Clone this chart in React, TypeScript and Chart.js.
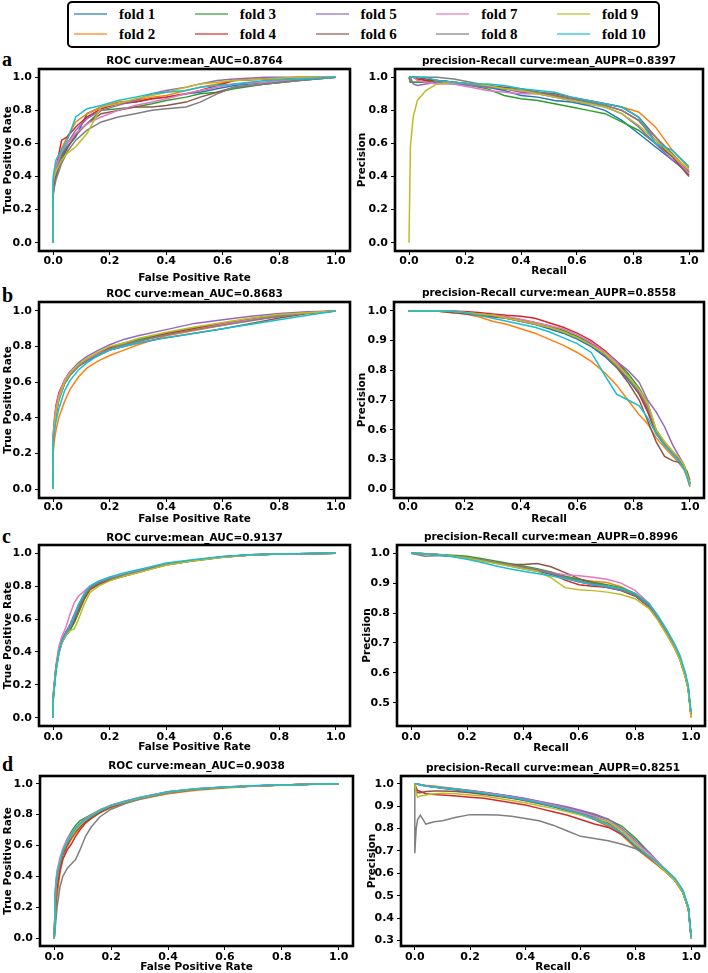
import React, { useEffect, useRef } from 'react';
import { Chart, registerables, LinearScale } from 'chart.js';

// ---------------- shared labels / colours ----------------
const FOLD_LABELS = ['fold 1', 'fold 2', 'fold 3', 'fold 4', 'fold 5', 'fold 6', 'fold 7', 'fold 8', 'fold 9', 'fold 10'];
const FOLD_COLORS = ['#1f77b4', '#ff7f0e', '#2ca02c', '#d62728', '#9467bd', '#8c564b', '#e377c2', '#7f7f7f', '#bcbd22', '#17becf'];
const LEGEND_COLORS = ['rgba(31,119,180,0.6)', 'rgba(255,127,14,0.6)', 'rgba(44,160,44,0.6)', 'rgba(214,39,40,0.6)', 'rgba(148,103,189,0.6)', 'rgba(140,86,75,0.6)', 'rgba(227,119,194,0.6)', 'rgba(127,127,127,0.6)', 'rgba(188,189,34,0.6)', 'rgba(23,190,207,0.6)'];

const UNIT_TICKS = [0, 0.2, 0.4, 0.6, 0.8, 1.0];
const PR_B_TICKS = [0, 0.3, 0.6, 0.7, 0.8, 0.9, 1.0];
const PR_C_TICKS = [0.5, 0.6, 0.7, 0.8, 0.9, 1.0];
const PR_D_TICKS = [0.3, 0.4, 0.5, 0.6, 0.7, 0.8, 0.9, 1.0];

const TITLES = {
  aRoc: 'ROC curve:mean_AUC=0.8764', aPr: 'precision-Recall curve:mean_AUPR=0.8397',
  bRoc: 'ROC curve:mean_AUC=0.8683', bPr: 'precision-Recall curve:mean_AUPR=0.8558',
  cRoc: 'ROC curve:mean_AUC=0.9137', cPr: 'precision-Recall curve:mean_AUPR=0.8996',
  dRoc: 'ROC curve:mean_AUC=0.9038', dPr: 'precision-Recall curve:mean_AUPR=0.8251',
};

// ---------------- panel a : ROC ----------------
const rocA_fpr = [0, 0, 0.01, 0.03, 0.05, 0.08, 0.12, 0.17, 0.23, 0.29, 0.35, 0.40, 0.47, 0.52, 0.58, 0.64, 0.75, 0.87, 1.0];
const rocA_tpr = [
  [0, 0.30, 0.42, 0.52, 0.58, 0.64, 0.78, 0.82, 0.84, 0.85, 0.87, 0.88, 0.90, 0.91, 0.93, 0.95, 0.97, 0.99, 1.0],
  [0, 0.33, 0.45, 0.57, 0.64, 0.73, 0.78, 0.82, 0.85, 0.86, 0.88, 0.89, 0.92, 0.94, 0.96, 0.98, 0.99, 0.995, 1.0],
  [0, 0.35, 0.44, 0.53, 0.60, 0.66, 0.72, 0.80, 0.81, 0.82, 0.84, 0.86, 0.88, 0.90, 0.91, 0.93, 0.96, 0.98, 1.0],
  [0, 0.28, 0.45, 0.62, 0.64, 0.70, 0.76, 0.81, 0.84, 0.85, 0.87, 0.88, 0.90, 0.92, 0.95, 0.98, 0.99, 1.0, 1.0],
  [0, 0.34, 0.44, 0.55, 0.60, 0.68, 0.75, 0.80, 0.83, 0.86, 0.90, 0.92, 0.94, 0.96, 0.98, 0.99, 1.0, 1.0, 1.0],
  [0, 0.32, 0.40, 0.50, 0.57, 0.65, 0.72, 0.78, 0.80, 0.82, 0.82, 0.83, 0.85, 0.88, 0.91, 0.94, 0.96, 0.98, 1.0],
  [0, 0.36, 0.46, 0.55, 0.60, 0.66, 0.72, 0.76, 0.80, 0.83, 0.85, 0.87, 0.90, 0.92, 0.94, 0.96, 0.97, 0.99, 1.0],
  [0, 0.30, 0.38, 0.48, 0.55, 0.62, 0.68, 0.73, 0.76, 0.78, 0.80, 0.81, 0.82, 0.85, 0.90, 0.94, 0.96, 0.98, 1.0],
  [0, 0.38, 0.43, 0.50, 0.54, 0.58, 0.66, 0.82, 0.84, 0.87, 0.89, 0.91, 0.94, 0.96, 0.97, 0.98, 0.99, 1.0, 1.0],
  [0, 0.40, 0.50, 0.56, 0.62, 0.76, 0.81, 0.83, 0.86, 0.88, 0.90, 0.91, 0.92, 0.94, 0.95, 0.96, 0.98, 0.99, 1.0],
];

// ---------------- panel a : PR ----------------
const prA_recall = [0, 0.005, 0.015, 0.03, 0.06, 0.10, 0.16, 0.22, 0.28, 0.34, 0.40, 0.46, 0.52, 0.58, 0.64, 0.70, 0.76, 0.82, 0.88, 0.94, 1.0];
const prA_precision = [
  [1.0, 1.0, 1.0, 1.0, 0.98, 0.98, 0.97, 0.96, 0.94, 0.92, 0.89, 0.88, 0.86, 0.85, 0.83, 0.80, 0.74, 0.66, 0.58, 0.50, 0.42],
  [1.0, 0.97, 0.97, 0.97, 0.97, 0.98, 0.97, 0.96, 0.95, 0.93, 0.92, 0.91, 0.89, 0.87, 0.86, 0.84, 0.82, 0.79, 0.70, 0.56, 0.45],
  [1.0, 0.97, 0.97, 0.97, 0.97, 0.98, 0.97, 0.95, 0.93, 0.89, 0.87, 0.86, 0.84, 0.82, 0.80, 0.78, 0.73, 0.68, 0.60, 0.52, 0.43],
  [1.0, 1.0, 1.0, 0.99, 0.98, 0.98, 0.97, 0.96, 0.95, 0.93, 0.92, 0.91, 0.89, 0.87, 0.85, 0.83, 0.80, 0.74, 0.62, 0.52, 0.41],
  [1.0, 1.0, 0.96, 0.95, 0.96, 0.97, 0.96, 0.95, 0.94, 0.93, 0.91, 0.90, 0.88, 0.86, 0.84, 0.82, 0.78, 0.70, 0.60, 0.50, 0.42],
  [1.0, 1.0, 1.0, 1.0, 0.99, 0.98, 0.97, 0.96, 0.95, 0.94, 0.93, 0.91, 0.90, 0.88, 0.86, 0.84, 0.82, 0.76, 0.64, 0.52, 0.40],
  [1.0, 1.0, 1.0, 0.98, 0.97, 0.96, 0.96, 0.94, 0.92, 0.91, 0.90, 0.90, 0.88, 0.86, 0.85, 0.83, 0.80, 0.74, 0.64, 0.53, 0.42],
  [1.0, 1.0, 1.0, 1.0, 1.0, 1.0, 0.99, 0.97, 0.95, 0.93, 0.92, 0.91, 0.89, 0.87, 0.85, 0.83, 0.80, 0.74, 0.64, 0.54, 0.43],
  [0.0, 0.58, 0.76, 0.86, 0.92, 0.96, 0.97, 0.96, 0.95, 0.93, 0.92, 0.90, 0.88, 0.86, 0.84, 0.82, 0.78, 0.71, 0.62, 0.53, 0.44],
  [1.0, 1.0, 1.0, 1.0, 1.0, 0.98, 0.97, 0.96, 0.96, 0.95, 0.93, 0.92, 0.91, 0.88, 0.86, 0.84, 0.82, 0.76, 0.60, 0.56, 0.46],
];

// ---------------- panel b : ROC ----------------
const rocB_fpr = [0, 0, 0.005, 0.01, 0.02, 0.04, 0.06, 0.09, 0.12, 0.16, 0.2, 0.25, 0.3, 0.4, 0.5, 0.6, 0.7, 0.8, 0.9, 1.0];
const rocB_tpr = [
  [0, 0.27, 0.36, 0.42, 0.50, 0.59, 0.64, 0.69, 0.725, 0.76, 0.79, 0.81, 0.835, 0.87, 0.90, 0.925, 0.95, 0.97, 0.99, 1.0],
  [0, 0.20, 0.28, 0.33, 0.40, 0.49, 0.56, 0.63, 0.68, 0.72, 0.75, 0.78, 0.81, 0.86, 0.89, 0.92, 0.95, 0.97, 0.99, 1.0],
  [0, 0.27, 0.36, 0.43, 0.51, 0.60, 0.65, 0.70, 0.73, 0.765, 0.795, 0.82, 0.84, 0.875, 0.905, 0.93, 0.955, 0.975, 0.99, 1.0],
  [0, 0.30, 0.40, 0.47, 0.54, 0.61, 0.66, 0.70, 0.73, 0.76, 0.79, 0.81, 0.83, 0.87, 0.90, 0.93, 0.95, 0.97, 0.99, 1.0],
  [0, 0.28, 0.37, 0.44, 0.52, 0.61, 0.66, 0.71, 0.745, 0.78, 0.81, 0.84, 0.86, 0.895, 0.93, 0.95, 0.97, 0.985, 0.995, 1.0],
  [0, 0.28, 0.37, 0.44, 0.52, 0.60, 0.65, 0.69, 0.72, 0.75, 0.78, 0.80, 0.82, 0.85, 0.875, 0.90, 0.93, 0.96, 0.985, 1.0],
  [0, 0.30, 0.39, 0.46, 0.53, 0.61, 0.66, 0.70, 0.73, 0.76, 0.785, 0.81, 0.83, 0.865, 0.895, 0.925, 0.95, 0.97, 0.99, 1.0],
  [0, 0.26, 0.35, 0.42, 0.50, 0.59, 0.64, 0.69, 0.72, 0.755, 0.785, 0.81, 0.83, 0.865, 0.895, 0.92, 0.945, 0.97, 0.99, 1.0],
  [0, 0.27, 0.36, 0.43, 0.51, 0.60, 0.65, 0.70, 0.735, 0.77, 0.80, 0.82, 0.845, 0.88, 0.91, 0.935, 0.96, 0.98, 0.99, 1.0],
  [0, 0.26, 0.33, 0.38, 0.45, 0.55, 0.61, 0.67, 0.71, 0.75, 0.78, 0.80, 0.82, 0.85, 0.875, 0.90, 0.925, 0.95, 0.975, 1.0],
];

// ---------------- panel b : PR ----------------
const prB_recall = [0, 0.1, 0.15, 0.2, 0.25, 0.3, 0.35, 0.4, 0.45, 0.5, 0.55, 0.6, 0.65, 0.7, 0.74, 0.78, 0.82, 0.85, 0.88, 0.91, 0.94, 0.96, 0.98, 0.99, 1.0];
const prB_precision = [
  [1, 1, 1, 0.995, 0.99, 0.985, 0.975, 0.965, 0.955, 0.94, 0.925, 0.905, 0.88, 0.845, 0.81, 0.77, 0.72, 0.67, 0.57, 0.45, 0.36, 0.30, 0.21, 0.14, 0.05],
  [1, 1, 0.995, 0.99, 0.98, 0.965, 0.955, 0.94, 0.925, 0.905, 0.885, 0.86, 0.83, 0.79, 0.75, 0.70, 0.65, 0.62, 0.52, 0.42, 0.33, 0.27, 0.19, 0.12, 0.02],
  [1, 1, 1, 0.995, 0.99, 0.985, 0.98, 0.97, 0.96, 0.95, 0.935, 0.915, 0.89, 0.86, 0.83, 0.79, 0.74, 0.69, 0.60, 0.47, 0.37, 0.31, 0.22, 0.14, 0.05],
  [1, 1, 1, 0.998, 0.995, 0.99, 0.985, 0.982, 0.975, 0.96, 0.945, 0.925, 0.90, 0.865, 0.83, 0.78, 0.72, 0.66, 0.56, 0.45, 0.36, 0.30, 0.22, 0.14, 0.06],
  [1, 1, 1, 0.99, 0.985, 0.98, 0.975, 0.965, 0.955, 0.945, 0.93, 0.91, 0.89, 0.86, 0.83, 0.80, 0.76, 0.70, 0.66, 0.61, 0.44, 0.34, 0.24, 0.155, 0.07],
  [1, 1, 0.995, 0.99, 0.985, 0.98, 0.975, 0.968, 0.958, 0.945, 0.93, 0.91, 0.885, 0.85, 0.81, 0.76, 0.70, 0.63, 0.48, 0.33, 0.285, 0.27, 0.22, 0.18, 0.09],
  [1, 1, 1, 0.995, 0.99, 0.985, 0.98, 0.972, 0.962, 0.95, 0.94, 0.92, 0.895, 0.86, 0.825, 0.78, 0.73, 0.68, 0.59, 0.46, 0.36, 0.29, 0.21, 0.13, 0.04],
  [1, 1, 1, 0.995, 0.99, 0.985, 0.975, 0.965, 0.955, 0.945, 0.93, 0.91, 0.885, 0.85, 0.815, 0.775, 0.725, 0.675, 0.58, 0.45, 0.35, 0.29, 0.21, 0.14, 0.06],
  [1, 1, 1, 0.995, 0.99, 0.985, 0.975, 0.967, 0.957, 0.945, 0.93, 0.91, 0.885, 0.855, 0.82, 0.78, 0.735, 0.69, 0.60, 0.48, 0.38, 0.32, 0.24, 0.15, 0.06],
  [1, 1, 1, 0.995, 0.985, 0.975, 0.965, 0.955, 0.945, 0.93, 0.91, 0.89, 0.86, 0.78, 0.72, 0.70, 0.68, 0.64, 0.56, 0.44, 0.35, 0.29, 0.20, 0.12, 0.03],
];

// ---------------- panel c : ROC ----------------
const rocC_fpr = [0, 0, 0.01, 0.02, 0.03, 0.045, 0.06, 0.075, 0.09, 0.11, 0.13, 0.16, 0.2, 0.25, 0.3, 0.35, 0.4, 0.5, 0.6, 0.7, 0.8, 1.0];
const rocC_tpr = [
  [0, 0.11, 0.30, 0.40, 0.46, 0.51, 0.55, 0.61, 0.67, 0.74, 0.79, 0.82, 0.845, 0.87, 0.89, 0.912, 0.932, 0.958, 0.978, 0.99, 0.995, 1.0],
  [0, 0.12, 0.30, 0.41, 0.47, 0.51, 0.55, 0.58, 0.64, 0.72, 0.775, 0.81, 0.835, 0.86, 0.882, 0.905, 0.928, 0.955, 0.976, 0.989, 0.995, 1.0],
  [0, 0.13, 0.31, 0.40, 0.46, 0.50, 0.53, 0.58, 0.64, 0.72, 0.78, 0.81, 0.838, 0.862, 0.884, 0.908, 0.93, 0.956, 0.977, 0.989, 0.995, 1.0],
  [0, 0.12, 0.30, 0.41, 0.47, 0.52, 0.56, 0.60, 0.66, 0.73, 0.785, 0.815, 0.84, 0.865, 0.886, 0.91, 0.93, 0.957, 0.977, 0.99, 0.995, 1.0],
  [0, 0.12, 0.31, 0.41, 0.47, 0.52, 0.57, 0.63, 0.69, 0.75, 0.79, 0.82, 0.845, 0.87, 0.89, 0.912, 0.932, 0.958, 0.978, 0.99, 0.995, 1.0],
  [0, 0.11, 0.29, 0.39, 0.45, 0.50, 0.54, 0.59, 0.65, 0.73, 0.78, 0.81, 0.838, 0.862, 0.884, 0.908, 0.93, 0.956, 0.977, 0.989, 0.995, 1.0],
  [0, 0.14, 0.32, 0.43, 0.49, 0.55, 0.63, 0.70, 0.74, 0.77, 0.80, 0.825, 0.848, 0.87, 0.888, 0.908, 0.928, 0.955, 0.976, 0.989, 0.995, 1.0],
  [0, 0.12, 0.30, 0.40, 0.46, 0.51, 0.55, 0.61, 0.67, 0.74, 0.79, 0.82, 0.845, 0.868, 0.888, 0.91, 0.932, 0.958, 0.978, 0.99, 0.995, 1.0],
  [0, 0.12, 0.29, 0.39, 0.45, 0.50, 0.53, 0.54, 0.60, 0.69, 0.76, 0.80, 0.832, 0.86, 0.882, 0.905, 0.928, 0.955, 0.976, 0.989, 0.995, 1.0],
  [0, 0.10, 0.28, 0.39, 0.46, 0.51, 0.55, 0.62, 0.69, 0.755, 0.80, 0.83, 0.855, 0.88, 0.90, 0.92, 0.94, 0.962, 0.98, 0.99, 0.996, 1.0],
];

// ---------------- panel c : PR ----------------
const prC_recall = [0, 0.05, 0.1, 0.15, 0.2, 0.25, 0.3, 0.35, 0.4, 0.45, 0.5, 0.55, 0.6, 0.65, 0.7, 0.75, 0.8, 0.85, 0.88, 0.91, 0.94, 0.96, 0.98, 0.99, 1.0];
const prC_precision = [
  [1.0, 0.997, 0.993, 0.99, 0.984, 0.976, 0.968, 0.958, 0.948, 0.94, 0.93, 0.918, 0.905, 0.895, 0.885, 0.875, 0.857, 0.82, 0.78, 0.735, 0.685, 0.645, 0.585, 0.545, 0.46],
  [1.0, 0.998, 0.995, 0.99, 0.985, 0.977, 0.969, 0.96, 0.952, 0.944, 0.934, 0.922, 0.912, 0.906, 0.902, 0.888, 0.865, 0.828, 0.79, 0.745, 0.695, 0.655, 0.595, 0.55, 0.45],
  [1.0, 0.998, 0.996, 0.993, 0.99, 0.982, 0.974, 0.966, 0.957, 0.948, 0.937, 0.923, 0.913, 0.903, 0.895, 0.885, 0.866, 0.825, 0.785, 0.74, 0.69, 0.65, 0.59, 0.55, 0.46],
  [1.0, 0.998, 0.995, 0.99, 0.985, 0.977, 0.968, 0.96, 0.952, 0.943, 0.932, 0.91, 0.895, 0.89, 0.886, 0.876, 0.858, 0.822, 0.782, 0.738, 0.688, 0.648, 0.588, 0.548, 0.46],
  [1.0, 0.998, 0.995, 0.99, 0.985, 0.978, 0.97, 0.962, 0.953, 0.945, 0.933, 0.918, 0.905, 0.895, 0.887, 0.877, 0.86, 0.823, 0.783, 0.738, 0.688, 0.648, 0.59, 0.55, 0.46],
  [1.0, 0.998, 0.995, 0.99, 0.985, 0.978, 0.97, 0.963, 0.962, 0.966, 0.955, 0.935, 0.915, 0.90, 0.89, 0.878, 0.86, 0.824, 0.784, 0.74, 0.69, 0.65, 0.59, 0.55, 0.46],
  [1.0, 0.998, 0.995, 0.99, 0.985, 0.978, 0.97, 0.96, 0.952, 0.944, 0.935, 0.928, 0.925, 0.92, 0.913, 0.90, 0.876, 0.833, 0.79, 0.745, 0.695, 0.655, 0.595, 0.553, 0.46],
  [1.0, 0.99, 0.992, 0.99, 0.985, 0.978, 0.97, 0.962, 0.953, 0.945, 0.934, 0.92, 0.908, 0.898, 0.888, 0.877, 0.86, 0.824, 0.784, 0.74, 0.69, 0.65, 0.59, 0.55, 0.46],
  [1.0, 0.998, 0.995, 0.99, 0.984, 0.975, 0.966, 0.957, 0.948, 0.94, 0.918, 0.885, 0.878, 0.875, 0.87, 0.862, 0.848, 0.815, 0.778, 0.733, 0.685, 0.645, 0.585, 0.545, 0.45],
  [1.0, 0.998, 0.994, 0.988, 0.98, 0.97, 0.958, 0.948, 0.94, 0.932, 0.925, 0.915, 0.905, 0.895, 0.89, 0.882, 0.866, 0.832, 0.795, 0.75, 0.70, 0.66, 0.60, 0.56, 0.47],
];

// ---------------- panel d : ROC ----------------
const rocD_fpr = [0, 0.005, 0.01, 0.02, 0.03, 0.045, 0.06, 0.075, 0.09, 0.11, 0.13, 0.16, 0.2, 0.25, 0.3, 0.4, 0.5, 0.6, 0.7, 0.8, 0.9, 1.0];
const rocD_tpr = [
  [0, 0.32, 0.40, 0.48, 0.55, 0.61, 0.66, 0.70, 0.73, 0.765, 0.785, 0.82, 0.855, 0.882, 0.905, 0.945, 0.965, 0.978, 0.986, 0.992, 0.996, 1.0],
  [0, 0.15, 0.27, 0.42, 0.51, 0.59, 0.64, 0.68, 0.71, 0.75, 0.775, 0.81, 0.845, 0.875, 0.90, 0.935, 0.958, 0.972, 0.983, 0.99, 0.995, 1.0],
  [0, 0.33, 0.42, 0.50, 0.57, 0.64, 0.69, 0.73, 0.76, 0.78, 0.80, 0.83, 0.86, 0.884, 0.907, 0.946, 0.966, 0.978, 0.986, 0.992, 0.996, 1.0],
  [0, 0.22, 0.32, 0.44, 0.51, 0.57, 0.61, 0.66, 0.70, 0.745, 0.775, 0.815, 0.85, 0.88, 0.905, 0.945, 0.965, 0.978, 0.986, 0.992, 0.996, 1.0],
  [0, 0.33, 0.42, 0.50, 0.56, 0.62, 0.67, 0.71, 0.74, 0.77, 0.79, 0.825, 0.86, 0.886, 0.91, 0.948, 0.967, 0.979, 0.987, 0.992, 0.996, 1.0],
  [0, 0.30, 0.39, 0.47, 0.54, 0.60, 0.65, 0.69, 0.72, 0.755, 0.78, 0.815, 0.85, 0.88, 0.905, 0.944, 0.964, 0.977, 0.986, 0.992, 0.996, 1.0],
  [0, 0.36, 0.44, 0.52, 0.58, 0.64, 0.68, 0.715, 0.745, 0.775, 0.795, 0.83, 0.862, 0.888, 0.912, 0.948, 0.967, 0.979, 0.987, 0.992, 0.996, 1.0],
  [0, 0.10, 0.20, 0.33, 0.40, 0.45, 0.48, 0.51, 0.57, 0.66, 0.72, 0.785, 0.835, 0.872, 0.90, 0.94, 0.962, 0.976, 0.985, 0.991, 0.996, 1.0],
  [0, 0.30, 0.40, 0.49, 0.56, 0.62, 0.66, 0.70, 0.73, 0.765, 0.79, 0.825, 0.858, 0.884, 0.908, 0.946, 0.966, 0.978, 0.986, 0.992, 0.996, 1.0],
  [0, 0.31, 0.41, 0.49, 0.56, 0.62, 0.67, 0.71, 0.74, 0.77, 0.79, 0.825, 0.86, 0.887, 0.91, 0.948, 0.967, 0.979, 0.987, 0.992, 0.996, 1.0],
];

// ---------------- panel d : PR ----------------
const prD_recall = [0, 0, 0.005, 0.01, 0.02, 0.04, 0.07, 0.1, 0.15, 0.2, 0.25, 0.3, 0.35, 0.4, 0.45, 0.5, 0.55, 0.6, 0.65, 0.7, 0.75, 0.8, 0.85, 0.9, 0.94, 0.97, 0.99, 1.0];
const prD_precision = [
  [1.0, 1.0, 1.0, 0.998, 0.995, 0.99, 0.985, 0.98, 0.972, 0.964, 0.956, 0.947, 0.937, 0.925, 0.912, 0.897, 0.88, 0.862, 0.84, 0.81, 0.77, 0.712, 0.665, 0.62, 0.575, 0.52, 0.445, 0.31],
  [1.0, 1.0, 1.0, 1.0, 0.997, 0.993, 0.99, 0.985, 0.978, 0.97, 0.962, 0.953, 0.943, 0.932, 0.918, 0.903, 0.886, 0.866, 0.842, 0.812, 0.77, 0.712, 0.662, 0.615, 0.57, 0.515, 0.44, 0.31],
  [1.0, 1.0, 1.0, 0.998, 0.995, 0.99, 0.985, 0.98, 0.975, 0.968, 0.96, 0.952, 0.943, 0.933, 0.92, 0.907, 0.893, 0.878, 0.86, 0.84, 0.81, 0.755, 0.69, 0.62, 0.575, 0.52, 0.445, 0.31],
  [1.0, 1.0, 0.98, 0.97, 0.965, 0.955, 0.952, 0.95, 0.945, 0.94, 0.935, 0.925, 0.915, 0.905, 0.89, 0.875, 0.86, 0.84, 0.82, 0.805, 0.775, 0.72, 0.67, 0.615, 0.57, 0.515, 0.44, 0.31],
  [1.0, 1.0, 1.0, 1.0, 0.995, 0.99, 0.985, 0.982, 0.977, 0.97, 0.962, 0.953, 0.944, 0.934, 0.922, 0.91, 0.897, 0.882, 0.865, 0.842, 0.80, 0.745, 0.69, 0.625, 0.578, 0.522, 0.447, 0.32],
  [1.0, 1.0, 0.97, 0.96, 0.96, 0.965, 0.967, 0.967, 0.965, 0.96, 0.952, 0.944, 0.935, 0.925, 0.912, 0.90, 0.885, 0.87, 0.85, 0.825, 0.78, 0.72, 0.67, 0.615, 0.57, 0.515, 0.44, 0.31],
  [1.0, 1.0, 1.0, 0.998, 0.995, 0.99, 0.986, 0.982, 0.976, 0.968, 0.96, 0.951, 0.941, 0.93, 0.918, 0.904, 0.89, 0.874, 0.855, 0.832, 0.795, 0.735, 0.685, 0.625, 0.578, 0.522, 0.447, 0.31],
  [1.0, 0.69, 0.80, 0.84, 0.86, 0.82, 0.83, 0.835, 0.85, 0.862, 0.862, 0.86, 0.855, 0.845, 0.835, 0.815, 0.79, 0.765, 0.755, 0.745, 0.73, 0.71, 0.67, 0.615, 0.57, 0.515, 0.44, 0.31],
  [1.0, 1.0, 0.96, 0.94, 0.945, 0.95, 0.955, 0.957, 0.955, 0.95, 0.945, 0.935, 0.925, 0.915, 0.902, 0.89, 0.875, 0.86, 0.845, 0.83, 0.79, 0.73, 0.675, 0.615, 0.57, 0.515, 0.44, 0.31],
  [1.0, 1.0, 1.0, 0.998, 0.995, 0.99, 0.986, 0.982, 0.975, 0.967, 0.958, 0.949, 0.939, 0.928, 0.915, 0.90, 0.884, 0.866, 0.845, 0.818, 0.78, 0.722, 0.675, 0.625, 0.58, 0.525, 0.45, 0.315],
];

// ---------------- piecewise (broken) y scale used by panel b PR ----------------
const pwForward = (v: number) => (v >= 0.6 ? v : 0.4 + v / 3);
const pwInverse = (t: number) => (t >= 0.6 ? t : (t - 0.4) * 3);
class PiecewiseScale extends LinearScale {
  static id = 'piecewise';
  static defaults = {};
  getPixelForValue(value: any) {
    if (value === null || value === undefined || isNaN(value)) return NaN;
    return super.getPixelForValue(pwForward(value));
  }
  getValueForPixel(pixel: number) {
    return pwInverse(super.getValueForPixel(pixel) as number);
  }
}

Chart.register(...registerables, PiecewiseScale);

const framePlugin = {
  id: 'axesFrame',
  afterDraw(chart: any) {
    const { ctx, chartArea } = chart;
    ctx.save();
    ctx.strokeStyle = '#000';
    ctx.lineWidth = 2.6;
    ctx.strokeRect(chartArea.left, chartArea.top, chartArea.right - chartArea.left, chartArea.bottom - chartArea.top);
    ctx.restore();
  },
};

type PanelSpec = {
  key: string; title: string; xLabel: string; yLabel: string;
  xs: number[]; ys: number[][];
  frame: [number, number, number, number];
  titleY: number; xLabelY: number; xTickY: number; yLabelX: number; col: number;
  yType: string; yMin: number; yMax: number; yTicks: number[];
};

const PANELS: PanelSpec[] = [
  { key: 'aRoc', title: TITLES.aRoc, xLabel: 'False Positive Rate', yLabel: 'True Positive Rate', xs: rocA_fpr, ys: rocA_tpr,
    frame: [39, 69, 350, 251], titleY: 61, xLabelY: 278, xTickY: 261.5, yLabelX: 8.3, col: 0, yType: 'linear', yMin: -0.05, yMax: 1.05, yTicks: UNIT_TICKS },
  { key: 'aPr', title: TITLES.aPr, xLabel: 'Recall', yLabel: 'Precision', xs: prA_recall, ys: prA_precision,
    frame: [395, 69, 703, 251], titleY: 61, xLabelY: 271, xTickY: 261, yLabelX: 362, col: 1, yType: 'linear', yMin: -0.05, yMax: 1.05, yTicks: UNIT_TICKS },
  { key: 'bRoc', title: TITLES.bRoc, xLabel: 'False Positive Rate', yLabel: 'True Positive Rate', xs: rocB_fpr, ys: rocB_tpr,
    frame: [39, 302, 350, 498], titleY: 294, xLabelY: 519, xTickY: 507, yLabelX: 8.3, col: 0, yType: 'linear', yMin: -0.05, yMax: 1.05, yTicks: UNIT_TICKS },
  { key: 'bPr', title: TITLES.bPr, xLabel: 'Recall', yLabel: 'Precision', xs: prB_recall, ys: prB_precision,
    frame: [394, 302, 704, 498], titleY: 293, xLabelY: 519, xTickY: 507, yLabelX: 362, col: 1, yType: 'piecewise', yMin: 0.37, yMax: 1.03, yTicks: PR_B_TICKS },
  { key: 'cRoc', title: TITLES.cRoc, xLabel: 'False Positive Rate', yLabel: 'True Positive Rate', xs: rocC_fpr, ys: rocC_tpr,
    frame: [39, 545, 350, 726], titleY: 538, xLabelY: 747, xTickY: 737, yLabelX: 8.3, col: 0, yType: 'linear', yMin: -0.05, yMax: 1.05, yTicks: UNIT_TICKS },
  { key: 'cPr', title: TITLES.cPr, xLabel: 'Recall', yLabel: 'Precision', xs: prC_recall, ys: prC_precision,
    frame: [397, 545, 705, 726], titleY: 537, xLabelY: 748, xTickY: 737, yLabelX: 367, col: 1, yType: 'linear', yMin: 0.4225, yMax: 1.0275, yTicks: PR_C_TICKS },
  { key: 'dRoc', title: TITLES.dRoc, xLabel: 'False Positive Rate', yLabel: 'True Positive Rate', xs: rocD_fpr, ys: rocD_tpr,
    frame: [40, 776, 353, 946], titleY: 766, xLabelY: 967, xTickY: 957, yLabelX: 8.3, col: 0, yType: 'linear', yMin: -0.05, yMax: 1.05, yTicks: UNIT_TICKS },
  { key: 'dPr', title: TITLES.dPr, xLabel: 'Recall', yLabel: 'Precision', xs: prD_recall, ys: prD_precision,
    frame: [401, 776, 705, 946], titleY: 768, xLabelY: 967, xTickY: 957, yLabelX: 372, col: 1, yType: 'linear', yMin: 0.2755, yMax: 1.0345, yTicks: PR_D_TICKS },
];

const LABEL_SIZE = 10.5;
const LH = LABEL_SIZE * 1.2;
const LABEL_FONT = { family: 'DejaVu Sans', weight: 'bold' as const, size: LABEL_SIZE, lineHeight: 1.2 };
const TICK_FONT = { family: 'DejaVu Sans', weight: 'bold' as const, size: 11, lineHeight: 1 };

function geometry(p: PanelSpec) {
  const [L, T, R, B] = p.frame;
  const left = Math.round(p.yLabelX - 2 - LH / 2);
  const right = p.col === 0 ? R + 8 : 708;
  const top = Math.round(p.titleY - 2 - LH / 2);
  const bottom = Math.round(p.xLabelY + 1 + LH / 2);
  return { L, T, R, B, left, right, top, bottom, width: right - left, height: bottom - top };
}

function PanelChart({ p }: { p: PanelSpec }) {
  const ref = useRef<HTMLCanvasElement>(null);
  const g = geometry(p);
  useEffect(() => {
    if (!ref.current) return;
    const titlePadTop = p.titleY - LH / 2 - g.top;
    const titlePadBottom = g.T - g.top - titlePadTop - LH;
    const yTitlePadTop = p.yLabelX - LH / 2 - g.left;
    const xTitlePadBottom = g.bottom - p.xLabelY - LH / 2;
    const yAxisW = g.L - g.left;
    const xAxisH = g.bottom - g.B;
    const xTickPad = Math.max(0, p.xTickY - g.B - 4 - 5.5);
    const fmt = (v: any) => Number(v).toFixed(1);
    const gridOpts = { display: true, drawOnChartArea: false, drawTicks: true, tickLength: 4, color: '#000', lineWidth: 1 };

    const datasets = p.ys.map((ys, i) => ({
      label: FOLD_LABELS[i],
      data: p.xs.map((x, j) => ({ x, y: ys[j] })),
      borderColor: FOLD_COLORS[i],
      backgroundColor: FOLD_COLORS[i],
      borderWidth: 1.5,
      pointRadius: 0,
      pointHoverRadius: 0,
      tension: 0,
      fill: false,
      order: FOLD_LABELS.length - i,
    }));

    const chart = new Chart(ref.current, {
      type: 'line',
      data: { datasets },
      plugins: [framePlugin],
      options: {
        animation: false,
        responsive: false,
        maintainAspectRatio: false,
        devicePixelRatio: 1,
        events: [],
        layout: { padding: { left: 0, top: 0, right: g.right - g.R, bottom: 0 } },
        plugins: {
          legend: { display: false },
          tooltip: { enabled: false },
          title: {
            display: true, text: p.title, color: '#000', font: LABEL_FONT, fullSize: false,
            padding: { top: titlePadTop, bottom: titlePadBottom },
          },
        },
        scales: {
          x: {
            type: 'linear', position: 'bottom', min: -0.05, max: 1.05, bounds: 'data',
            afterBuildTicks: (s: any) => { s.ticks = UNIT_TICKS.map((v) => ({ value: v })); },
            afterFit: (s: any) => { s.height = xAxisH; },
            ticks: { autoSkip: false, maxRotation: 0, minRotation: 0, padding: xTickPad, color: '#000', font: TICK_FONT, callback: fmt },
            grid: gridOpts,
            border: { display: false },
            title: { display: true, text: p.xLabel, color: '#000', font: LABEL_FONT, padding: { top: 0, bottom: xTitlePadBottom } },
          },
          y: {
            type: p.yType as any, position: 'left', min: p.yMin, max: p.yMax, bounds: 'data',
            afterBuildTicks: (s: any) => { s.ticks = p.yTicks.map((v) => ({ value: v })); },
            afterFit: (s: any) => { s.width = yAxisW; },
            ticks: { autoSkip: false, padding: 3, color: '#000', font: TICK_FONT, callback: fmt },
            grid: gridOpts,
            border: { display: false },
            title: { display: true, text: p.yLabel, color: '#000', font: LABEL_FONT, padding: { top: yTitlePadTop, bottom: 0 } },
          },
        },
      } as any,
    });
    return () => chart.destroy();
  }, []);
  return (
    <canvas
      ref={ref}
      width={g.width}
      height={g.height}
      style={{ position: 'absolute', left: g.left, top: g.top, width: g.width, height: g.height }}
    />
  );
}

const PANEL_LETTERS = [
  { text: 'a', top: 49 },
  { text: 'b', top: 285 },
  { text: 'c', top: 526 },
  { text: 'd', top: 754 },
];

function Legend() {
  return (
    <div style={{ position: 'absolute', left: 67, top: 1, width: 593, height: 47, border: '2px solid #000', borderRadius: 5, boxSizing: 'border-box', background: '#fff' }}>
      {FOLD_LABELS.map((label, i) => {
        const col = Math.floor(i / 2);
        const row = i % 2;
        const cy = row === 0 ? 13.5 : 34;
        return (
          <div key={label} style={{ position: 'absolute', left: 5 + col * 120.75, top: cy - 3 - 10, height: 20, display: 'flex', alignItems: 'center', whiteSpace: 'nowrap' }}>
            <div style={{ width: 33, height: 2, background: LEGEND_COLORS[i], marginRight: 12 }} />
            <span style={{ fontFamily: '"Liberation Serif", serif', fontWeight: 'bold', fontSize: 15, lineHeight: '20px', color: '#000' }}>{label}</span>
          </div>
        );
      })}
    </div>
  );
}

export default function App() {
  return (
    <div style={{ position: 'absolute', left: 0, top: 0, width: 708, height: 973, overflow: 'hidden', background: '#fff' }}>
      <Legend />
      {PANEL_LETTERS.map((l) => (
        <div key={l.text} style={{ position: 'absolute', left: 2, top: l.top, fontFamily: '"Liberation Serif", serif', fontWeight: 'bold', fontSize: 20, lineHeight: '20px', color: '#000' }}>{l.text}</div>
      ))}
      {PANELS.map((p) => <PanelChart key={p.key} p={p} />)}
    </div>
  );
}
